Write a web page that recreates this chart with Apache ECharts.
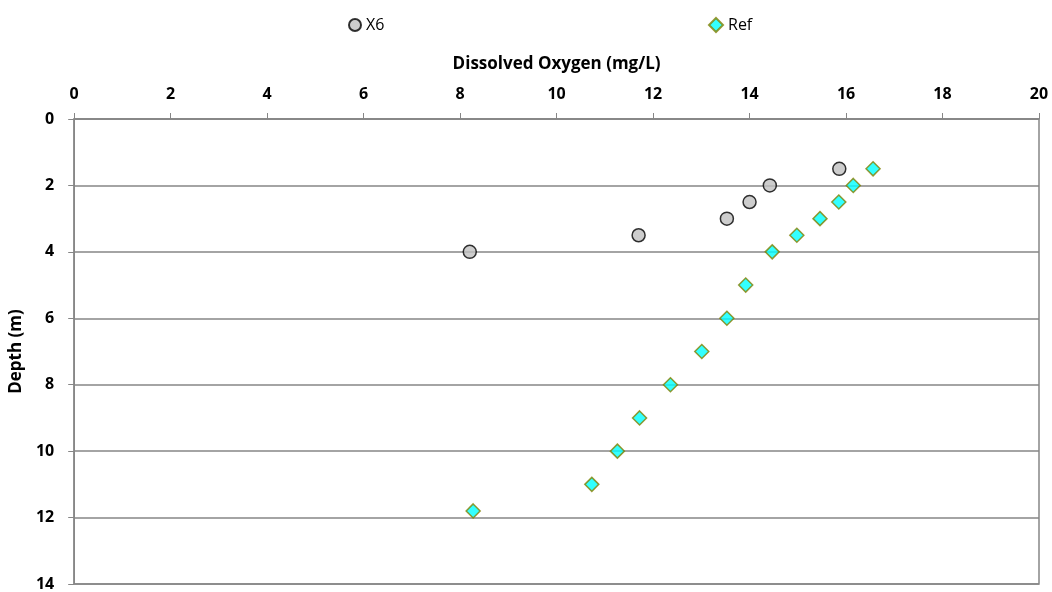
<!DOCTYPE html>
<html><head><meta charset="utf-8">
<script src="https://cdn.jsdelivr.net/npm/echarts@6/dist/echarts.min.js"></script>
<style>html,body{margin:0;padding:0;background:#fff}#c{width:1052px;height:592px}</style>
</head><body><div id="c"></div>
<script>
var x6DO = [15.86, 14.42, 14.0, 13.53, 11.70, 8.20];
var x6Depth = [1.5, 2, 2.5, 3, 3.5, 4];
var refDO = [16.56, 16.15, 15.85, 15.46, 14.98, 14.47, 13.92, 13.53, 13.01, 12.36, 11.72, 11.26, 10.73, 8.27];
var refDepth = [1.5, 2, 2.5, 3, 3.5, 4, 5, 6, 7, 8, 9, 10, 11, 11.8];
var xTicks = {min: 0, max: 20, interval: 2};
var yTicks = {min: 0, max: 14, interval: 2};

function pairs(xs, ys){ return xs.map(function(v,i){ return [v, ys[i]]; }); }
var font = '"Open Sans", "Noto Sans", sans-serif';
var chart = echarts.init(document.getElementById('c'));
chart.setOption({
  animation: false,
  textStyle: {fontFamily: font},
  grid: {left: 73, top: 119, right: 13, bottom: 7, show: true, borderColor: '#868686', borderWidth: 1.5},
  legend: [
    {data: [{name: 'X6', icon: 'circle'}], left: 343, top: 12, itemWidth: 12, itemHeight: 12, itemGap: 4,
     textStyle: {fontFamily: font, fontSize: 16, color: '#000', padding: [0,0,0,0]}},
    {data: [{name: 'Ref', icon: 'diamond'}], left: 703, top: 12, itemWidth: 14, itemHeight: 14, itemGap: 4,
     textStyle: {fontFamily: font, fontSize: 16, color: '#000'}}
  ],
  xAxis: {
    type: 'value', position: 'top', min: xTicks.min, max: xTicks.max, interval: xTicks.interval,
    name: 'Dissolved Oxygen (mg/L)', nameLocation: 'middle', nameGap: 46,
    nameTextStyle: {fontFamily: font, fontWeight: 'bold', fontSize: 17, color: '#000'},
    axisLine: {show: true, lineStyle: {color: '#868686', width: 1.5}},
    axisTick: {show: true, inside: false, length: 6, lineStyle: {color: '#868686'}},
    axisLabel: {fontFamily: font, fontWeight: 'bold', fontSize: 16, color: '#000', margin: 17},
    splitLine: {show: false}
  },
  yAxis: {
    type: 'value', inverse: true, min: yTicks.min, max: yTicks.max, interval: yTicks.interval,
    name: 'Depth (m)', nameLocation: 'middle', nameGap: 45,
    nameTextStyle: {fontFamily: font, fontWeight: 'bold', fontSize: 17, color: '#000'},
    axisLine: {show: true, lineStyle: {color: '#868686', width: 1.5}},
    axisTick: {show: true, inside: false, length: 6, lineStyle: {color: '#868686'}},
    axisLabel: {fontFamily: font, fontWeight: 'bold', fontSize: 16, color: '#000', margin: 20},
    splitLine: {show: true, lineStyle: {color: '#868686', width: 1.5}}
  },
  series: [
    {name: 'X6', type: 'scatter', symbol: 'circle', symbolSize: 13, data: pairs(x6DO, x6Depth),
     itemStyle: {color: '#C0C0C0', borderColor: '#000', borderWidth: 1.5}},
    {name: 'Ref', type: 'scatter', symbol: 'diamond', symbolSize: 14, data: pairs(refDO, refDepth),
     itemStyle: {color: '#00FFFF', borderColor: '#808000', borderWidth: 1.5}}
  ]
});
</script></body></html>
